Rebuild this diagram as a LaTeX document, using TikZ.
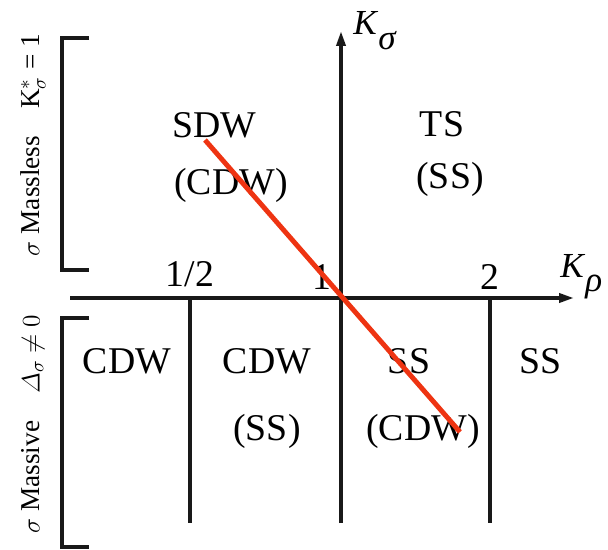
\documentclass[tikz,border=0pt]{standalone}
\usepackage{fontspec}
\usepackage{amsmath}
\setmainfont{Liberation Serif}
\usepackage{tikz}
\usetikzlibrary{arrows.meta, positioning}
\definecolor{myred}{RGB}{238,52,18}
\definecolor{mydark}{RGB}{25,25,25}
\tikzset{
  phase/.style={anchor=base, inner sep=0pt,
    font=\fontsize{21.5}{24}\selectfont},
  axlabel/.style={anchor=base west, inner sep=0pt,
    font=\fontsize{20}{22}\selectfont},
  side/.style={rotate=90, inner sep=0pt,
    font=\fontsize{15.5}{18}\selectfont},
  axis/.style={-{Triangle[length=0.3cm,width=0.18cm]}, line width=2pt, color=mydark},
  line/.style={line width=2pt, color=mydark},
  redline/.style={line width=2.8pt, color=myred}
}

\begin{document}
\begin{tikzpicture}[x=0.02cm, y=-0.02cm]
  \useasboundingbox (0,0) rectangle (608,550);
  % axes
  \coordinate (xs) at (70,298);
  \coordinate (xe) at (574,298);
  \coordinate (ys) at (341,523);
  \coordinate (ye) at (341,31);
  \draw[axis] (xs) -- (xe);
  \draw[axis] (ys) -- (ye);
  \node[axlabel] (ksig) at (353,35) {\textit{K}\raisebox{-0.4em}{\textit{σ}}};
  \node[axlabel] (krho) at (560,277) {\textit{K}\raisebox{-0.4em}{\textit{ρ}}};
  % phase boundaries
  \coordinate (h) at (190,298);
  \coordinate (hb) at (190,523);
  \coordinate (t) at (490,298);
  \coordinate (tb) at (490,523);
  \draw[line] (h) -- (hb);
  \draw[line] (t) -- (tb);
  \node[phase] (half) at (190,287) {1/2};
  \node[phase] (one) at (322,290) {1};
  \node[phase] (two) at (490,290) {2};
  % brackets
  \draw[line] (89,38) -- (62,38) -- (62,270) -- (89,270);
  \draw[line] (89,318) -- (62,318) -- (62,547) -- (89,547);
  \node[side] (massless) at (33,145) {$\sigma$ Massless\quad K$^{*}_{\sigma}$ = 1};
  \node[side] (massive) at (33,424) {$\sigma$ Massive\quad $\varDelta_{\sigma}\neq 0$};
  % upper phases
  \node[phase] (sdw) at (214,138) {SDW};
  \node[phase] (sdwb) at (231,195) {(CDW)};
  \node[phase] (ts) at (442,137) {TS};
  \node[phase] (tsb) at (450,189) {(SS)};
  % lower phases
  \node[phase] (cdwa) at (127,373) {CDW};
  \node[phase] (cdwb) at (267,373) {CDW};
  \node[phase] (cdwbb) at (267,440) {(SS)};
  \node[phase] (ssa) at (409,373) {SS};
  \node[phase] (ssab) at (423,440) {(CDW)};
  \node[phase] (ssb) at (540,373) {SS};
  % separatrix
  \coordinate (rs) at (205,140);
  \coordinate (re) at (460,432);
  \draw[redline] (rs) -- (re);
\end{tikzpicture}
\end{document}
